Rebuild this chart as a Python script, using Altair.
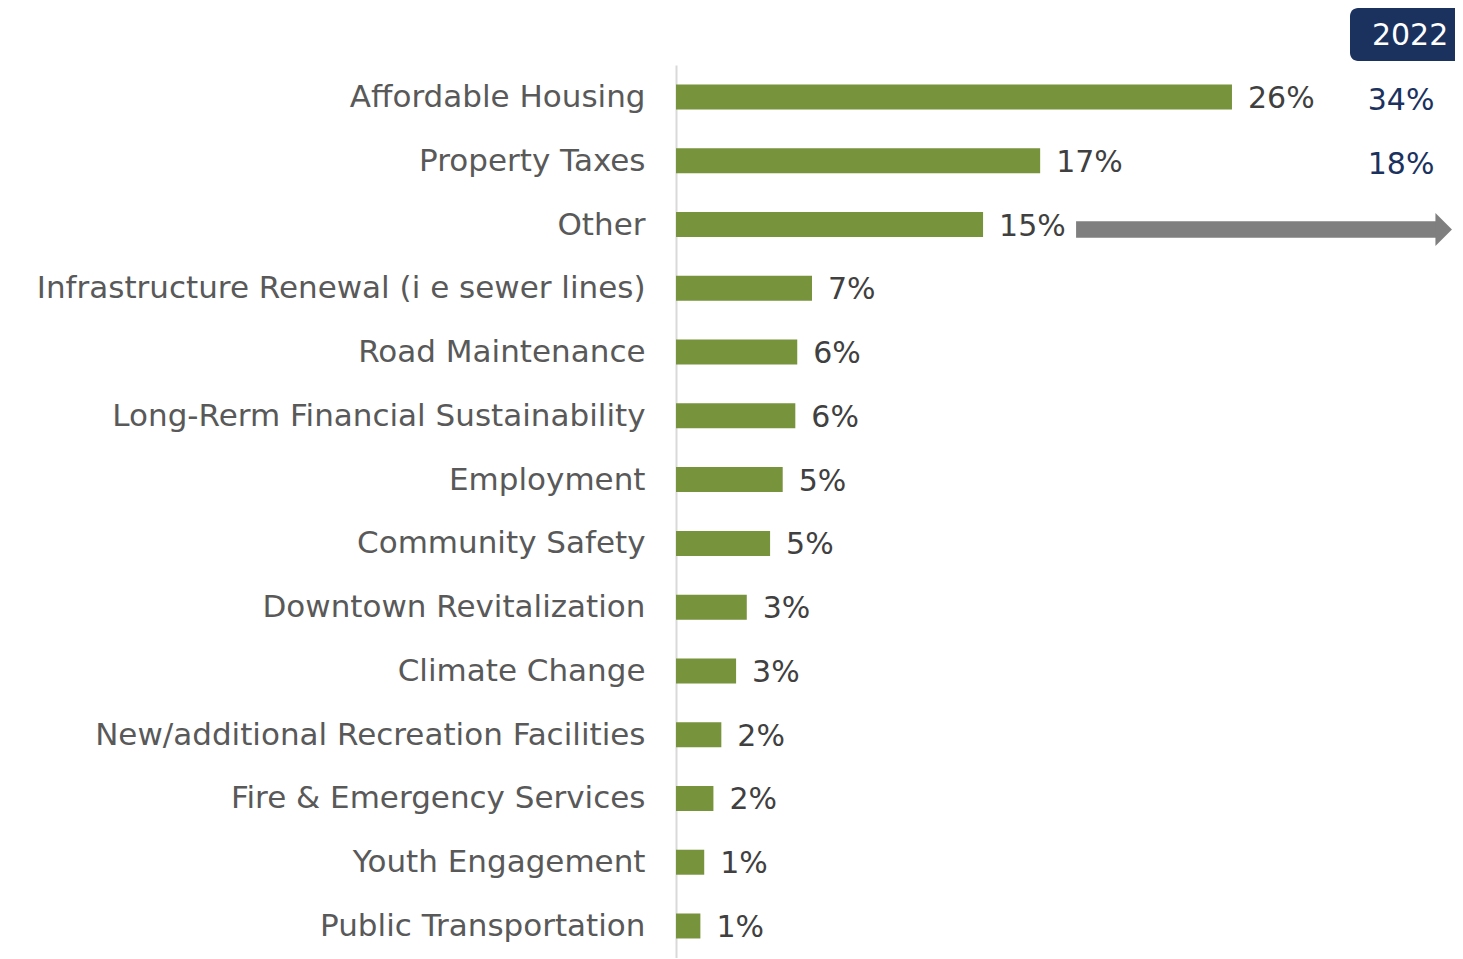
import altair as alt
import pandas as pd

categories = [
    "Affordable Housing",
    "Property Taxes",
    "Other",
    "Infrastructure Renewal (i e  sewer lines)",
    "Road Maintenance",
    "Long-Rerm Financial Sustainability",
    "Employment",
    "Community Safety",
    "Downtown Revitalization",
    "Climate Change",
    "New/additional Recreation Facilities",
    "Fire & Emergency Services",
    "Youth Engagement",
    "Public Transportation",
]
values = [26.0, 17.03, 14.36, 6.36, 5.67, 5.58, 4.99, 4.40, 3.31, 2.81, 2.12, 1.75, 1.32, 1.14]
labels = ["26%", "17%", "15%", "7%", "6%", "6%", "5%", "5%", "3%", "3%", "2%", "2%", "1%", "1%"]

compare_categories = ["Affordable Housing", "Property Taxes"]
compare_labels = ["34%", "18%"]
compare_year = "2022"
arrow_category = "Other"

FONT = "DejaVu Sans"
X_MAX = 36.43
GREEN = "#77933C"
NAVY = "#1B325F"
GREY_TXT = "#595959"

df = pd.DataFrame({"cat": categories, "val": values, "lab": labels})
cmp_df = pd.DataFrame({"cat": compare_categories, "lab": compare_labels, "x": [33.91, 33.91]})
arrow_df = pd.DataFrame({"cat": [arrow_category], "x": [18.71], "x2": [35.55], "hx": [35.9]})
box_df = pd.DataFrame({"x": [31.52], "x2": [X_MAX], "tx": [34.33], "lab": [compare_year]})

xscale = alt.Scale(domain=[0, X_MAX], nice=False, zero=True)
yscale = alt.Scale(domain=categories, paddingInner=0.608, paddingOuter=0.306)

y_enc = alt.Y(
    "cat:N",
    sort=categories,
    scale=yscale,
    title=None,
    axis=alt.Axis(
        ticks=False,
        labelFontSize=31,
        labelFont=FONT,
        labelColor=GREY_TXT,
        labelPadding=31,
        labelLimit=800,
        labelOffset=1,
        domainColor="#D9D9D9",
        domainWidth=2,
        grid=False,
    ),
)

bars = alt.Chart(df).mark_bar(color=GREEN).encode(
    x=alt.X("val:Q", scale=xscale, axis=None),
    y=y_enc,
)

val_text = alt.Chart(df).mark_text(
    align="left", baseline="middle", dx=16, dy=2, fontSize=30, font=FONT, color="#404040"
).encode(
    x=alt.X("val:Q", scale=xscale, axis=None),
    y=alt.Y("cat:N", sort=categories, scale=yscale),
    text="lab:N",
)

cmp_text = alt.Chart(cmp_df).mark_text(
    align="center", baseline="middle", dy=4, fontSize=30, font=FONT, color=NAVY
).encode(
    x=alt.X("x:Q", scale=xscale, axis=None),
    y=alt.Y("cat:N", sort=categories, scale=yscale),
    text="lab:N",
)

shaft = alt.Chart(arrow_df).mark_rule(color="#7F7F7F", strokeWidth=16.6, yOffset=5).encode(
    x=alt.X("x:Q", scale=xscale, axis=None),
    x2="x2:Q",
    y=alt.Y("cat:N", sort=categories, scale=yscale),
)

head = alt.Chart(arrow_df).mark_point(
    shape="M-0.5,-1L0.5,0L-0.5,1Z", size=1089, filled=True, opacity=1, color="#7F7F7F", yOffset=5
).encode(
    x=alt.X("hx:Q", scale=xscale, axis=None),
    y=alt.Y("cat:N", sort=categories, scale=yscale),
)

box = alt.Chart(box_df).mark_rect(
    color=NAVY, cornerRadiusTopLeft=8, cornerRadiusBottomLeft=8
).encode(
    x=alt.X("x:Q", scale=xscale, axis=None),
    x2="x2:Q",
    y=alt.value(-57),
    y2=alt.value(-4),
)

box_text = alt.Chart(box_df).mark_text(
    align="center", baseline="middle", fontSize=30, font=FONT, color="white"
).encode(
    x=alt.X("tx:Q", scale=xscale, axis=None),
    y=alt.value(-29),
    text="lab:N",
)

chart = (
    alt.layer(bars, val_text, cmp_text, shaft, head, box, box_text)
    .properties(
        width=779,
        height=893,
        autosize=alt.AutoSizeParams(type="none"),
        padding={"left": 668, "top": 57, "right": 0, "bottom": 0},
    )
    .configure_view(stroke=None)
)

chart.save("out.html", embed_options={"renderer": "svg", "actions": False})
